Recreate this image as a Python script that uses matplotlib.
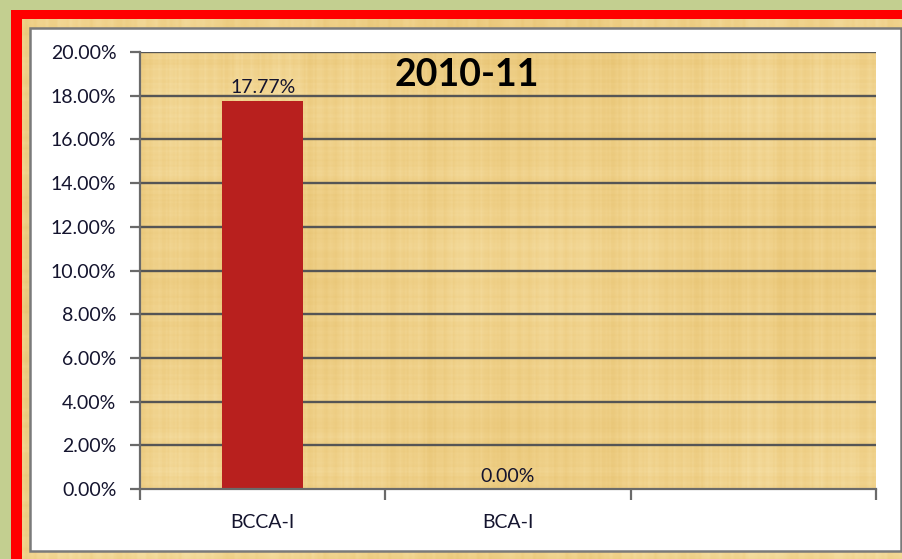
import numpy as np
import matplotlib
matplotlib.use('Agg')
import matplotlib.pyplot as plt
from matplotlib.colors import LinearSegmentedColormap
from matplotlib.patches import Rectangle

plt.rcParams['font.family'] = ['Lato', 'DejaVu Sans']

# data
categories = ["BCCA-I", "BCA-I", ""]
values = [17.77, 0.00]
title = "2010-11"
y_ticks = [0, 2, 4, 6, 8, 10, 12, 14, 16, 18, 20]

W, H = 903, 559
text_color = '#14142e'
bar_color = '#b8201e'
grid_color = '#555555'

papyrus = LinearSegmentedColormap.from_list('papyrus', ['#e2bb64', '#efd088', '#f9e7b4'])


def papyrus_texture(nx, ny):
    # deterministic fibre-like texture (decoration only)
    x = np.linspace(0, 1, nx)[None, :]
    y = np.linspace(0, 1, ny)[:, None]
    t = np.zeros((ny, nx))
    for k in range(1, 80):
        ph = (k * k * 0.6180339) % 1.0
        t += 0.25 * np.cos(2 * np.pi * (k * 4.7 + 3) * x + 6.283 * ph) / np.sqrt(k)
        t += 0.18 * np.cos(2 * np.pi * (k * 3.9 + 2) * y + 6.283 * ((ph * 7.1) % 1)) / np.sqrt(k)
    t += 0.6 * np.sin(2 * np.pi * 1.3 * x + 0.5) * np.sin(2 * np.pi * 1.1 * y + 1.1)
    t = (t - t.min()) / (t.max() - t.min())
    return 0.2 + 0.6 * t


fig = plt.figure(figsize=(W / 100, H / 100), dpi=100, facecolor='#c3cf90')

# background frame (pixel coordinates)
bg = fig.add_axes([0, 0, 1, 1], zorder=0)
bg.set_xlim(0, W)
bg.set_ylim(H, 0)
bg.axis('off')
bg.add_patch(Rectangle((11, 10), W, H, facecolor='#ff0000', edgecolor='none'))
bg.imshow(papyrus_texture(300, 200), cmap=papyrus, vmin=0, vmax=1,
          extent=(22, W + 5, H + 5, 19), aspect='auto', zorder=1)
bg.add_patch(Rectangle((30, 28), 871, 523, facecolor='white', edgecolor='#7a7a7a',
                       linewidth=1.8, zorder=2))
bg.set_xlim(0, W)
bg.set_ylim(H, 0)

# plot area
ax = fig.add_axes([140 / W, 1 - 489 / H, 736 / W, 437 / H], zorder=1)
ax.patch.set_alpha(0)
x = np.arange(len(categories))
ax.set_xlim(-0.5, len(categories) - 0.5)
ax.set_ylim(0, 20)
ax.imshow(papyrus_texture(400, 240), cmap=papyrus, vmin=0, vmax=1,
          extent=(-0.5, len(categories) - 0.5, 0, 20), aspect='auto', zorder=0)

for yv in y_ticks[1:]:
    ax.axhline(yv, color=grid_color, linewidth=1.7, zorder=1)

bars = ax.bar(x[:len(values)], values, width=0.33, color=bar_color, zorder=2)
for xi, v in zip(x, values):
    ax.text(xi, v + 0.2, f"{v:.2f}%", ha='center', va='bottom', fontsize=14,
            color=text_color, zorder=3)

ax.text(0.444, 0.947, title, transform=ax.transAxes, ha='center', va='center',
        fontsize=27, fontweight='bold', color='black', zorder=3)

ax.set_yticks(y_ticks)
ax.set_yticklabels([f"{v:.2f}%" for v in y_ticks])
ax.set_xticks(np.arange(len(categories) + 1) - 0.5)
ax.set_xticklabels([])
ax.set_xticks(x, minor=True)
ax.set_xticklabels(categories, minor=True)

ax.tick_params(axis='y', direction='out', length=7, width=1.6, color='#6a6a6a',
               pad=10, labelsize=14, labelcolor=text_color)
ax.tick_params(axis='x', which='major', direction='out', length=8, width=1.6,
               color='#6a6a6a')
ax.tick_params(axis='x', which='minor', length=0, pad=18, labelsize=14,
               labelcolor=text_color)

for s in ['top', 'right']:
    ax.spines[s].set_visible(False)
for s in ['left', 'bottom']:
    ax.spines[s].set_color('#6a6a6a')
    ax.spines[s].set_linewidth(1.6)
    ax.spines[s].set_zorder(4)

fig.savefig('out.png', dpi=100, facecolor=fig.get_facecolor())
